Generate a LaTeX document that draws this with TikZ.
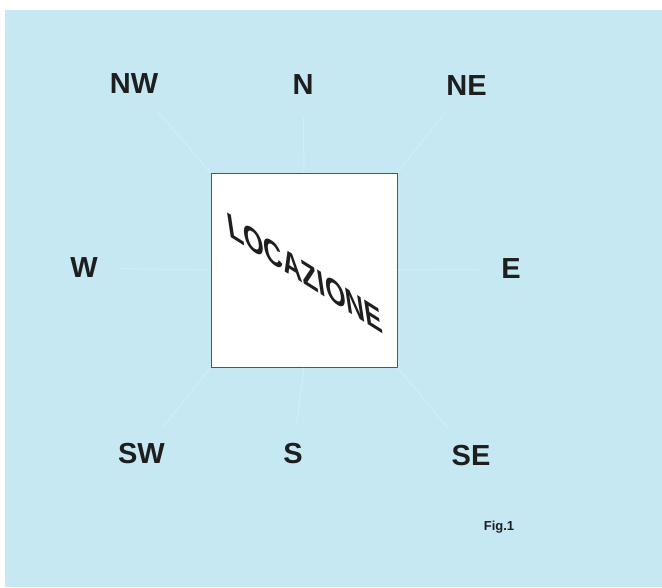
\documentclass[tikz,border=0pt]{standalone}
\usepackage{fontspec}
\setmainfont{Liberation Sans}
\definecolor{paper}{RGB}{198,232,242}
\definecolor{boxline}{RGB}{85,85,85}
\definecolor{ink}{RGB}{30,30,30}
\begin{document}
\begin{tikzpicture}[x=1pt,y=-1pt,
  dirlabel/.style={font=\fontsize{29}{29}\selectfont\bfseries, text=ink, inner sep=0pt},
  guide/.style={draw=white, line width=1pt, opacity=0.22, shorten <=22pt},
  locbox/.style={draw=boxline, fill=white, line width=0.9pt, minimum width=186pt, minimum height=194pt, inner sep=0pt}]
\useasboundingbox (0,0) rectangle (662,587);
\fill[white] (0,0) rectangle (662,587);
\fill[paper] (5,10) rectangle (662,587);
\node[locbox] (loc) at (304,270) {};
\node[dirlabel] (nw) at (134,84) {NW};
\node[dirlabel] (n)  at (303,85) {N};
\node[dirlabel] (ne) at (466.5,86) {NE};
\node[dirlabel] (w)  at (84,268) {W};
\node[dirlabel] (e)  at (511,269) {E};
\node[dirlabel] (sw) at (141.5,454) {SW};
\node[dirlabel] (s)  at (293,454) {S};
\node[dirlabel] (se) at (471,456) {SE};
\node[font=\fontsize{13}{13}\selectfont\bfseries, text=ink, inner sep=0pt] (fig) at (499,527) {Fig.1};
\draw[guide] (nw) -- (loc.north west);
\draw[guide] (n) -- (loc.north);
\draw[guide] (ne) -- (loc.north east);
\draw[guide] (w) -- (loc.west);
\draw[guide] (e) -- (loc.east);
\draw[guide] (sw) -- (loc.south west);
\draw[guide] (s) -- (loc.south);
\draw[guide] (se) -- (loc.south east);
\node[font=\fontsize{36}{36}\selectfont\bfseries, text=ink, inner sep=0pt, cm={0.73,-0.46,-0.15,1,(0,0)}] (txt) at (305,273) {LOCAZIONE};
\end{tikzpicture}
\end{document}
